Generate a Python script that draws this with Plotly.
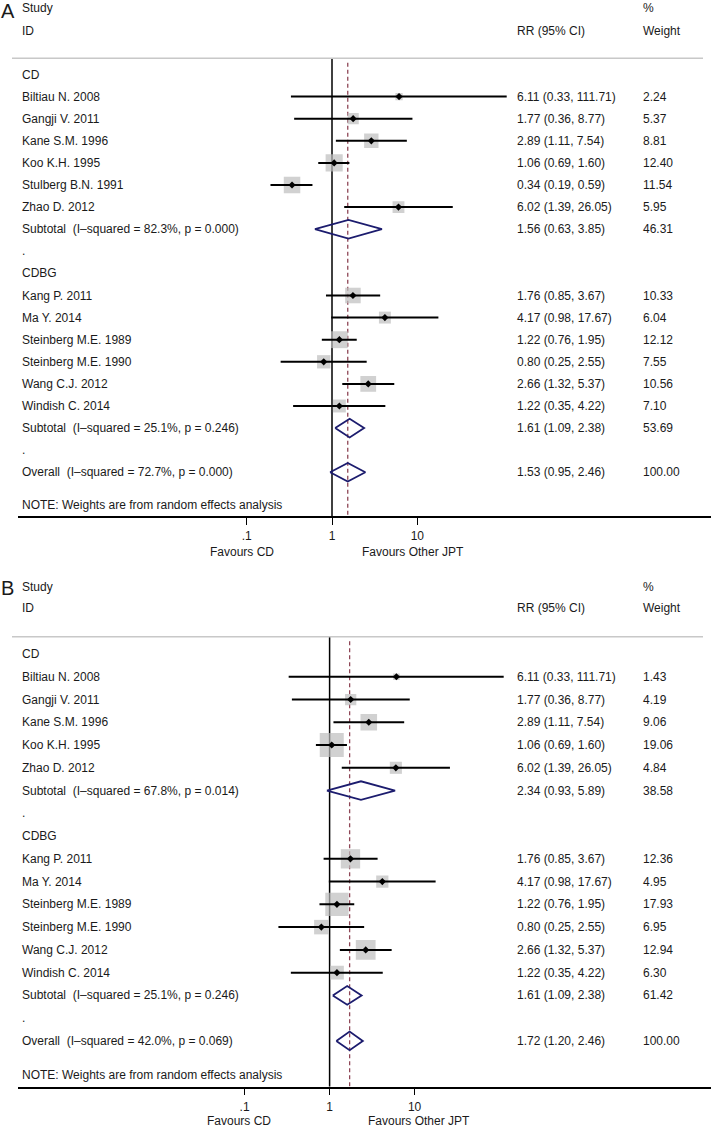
import plotly.graph_objects as go
import numpy as np

W, H = 711, 1127
FONT = "Liberation Sans, Arial, Helvetica, sans-serif"
TXT = "#1a1a1a"

# ---------------- Data: Panel A ----------------
a_cd_study = ["Biltiau N. 2008", "Gangji V. 2011", "Kane S.M. 1996", "Koo K.H. 1995",
              "Stulberg B.N. 1991", "Zhao D. 2012"]
a_cd_rr = [6.11, 1.77, 2.89, 1.06, 0.34, 6.02]
a_cd_lo = [0.33, 0.36, 1.11, 0.69, 0.19, 1.39]
a_cd_hi = [111.71, 8.77, 7.54, 1.60, 0.59, 26.05]
a_cd_w = [2.24, 5.37, 8.81, 12.40, 11.54, 5.95]
a_cd_sub = (1.56, 0.63, 3.85, 46.31, "82.3%", "0.000")

a_bg_study = ["Kang P. 2011", "Ma Y. 2014", "Steinberg M.E. 1989", "Steinberg M.E. 1990",
              "Wang C.J. 2012", "Windish C. 2014"]
a_bg_rr = [1.76, 4.17, 1.22, 0.80, 2.66, 1.22]
a_bg_lo = [0.85, 0.98, 0.76, 0.25, 1.32, 0.35]
a_bg_hi = [3.67, 17.67, 1.95, 2.55, 5.37, 4.22]
a_bg_w = [10.33, 6.04, 12.12, 7.55, 10.56, 7.10]
a_bg_sub = (1.61, 1.09, 2.38, 53.69, "25.1%", "0.246")

a_overall = (1.53, 0.95, 2.46, 100.00, "72.7%", "0.000")

# ---------------- Data: Panel B ----------------
b_cd_study = ["Biltiau N. 2008", "Gangji V. 2011", "Kane S.M. 1996", "Koo K.H. 1995",
              "Zhao D. 2012"]
b_cd_rr = [6.11, 1.77, 2.89, 1.06, 6.02]
b_cd_lo = [0.33, 0.36, 1.11, 0.69, 1.39]
b_cd_hi = [111.71, 8.77, 7.54, 1.60, 26.05]
b_cd_w = [1.43, 4.19, 9.06, 19.06, 4.84]
b_cd_sub = (2.34, 0.93, 5.89, 38.58, "67.8%", "0.014")

b_bg_study = ["Kang P. 2011", "Ma Y. 2014", "Steinberg M.E. 1989", "Steinberg M.E. 1990",
              "Wang C.J. 2012", "Windish C. 2014"]
b_bg_rr = [1.76, 4.17, 1.22, 0.80, 2.66, 1.22]
b_bg_lo = [0.85, 0.98, 0.76, 0.25, 1.32, 0.35]
b_bg_hi = [3.67, 17.67, 1.95, 2.55, 5.37, 4.22]
b_bg_w = [12.36, 4.95, 17.93, 6.95, 12.94, 6.30]
b_bg_sub = (1.61, 1.09, 2.38, 61.42, "25.1%", "0.246")

b_overall = (1.72, 1.20, 2.46, 100.00, "42.0%", "0.069")

group_names = ["CD", "CDBG"]
tick_vals = [0.1, 1, 10]
tick_text = [".1", "1", "10"]

# ---------------- Layout geometry (pixels) ----------------
panels = [
    dict(letter="A", suffix="", groups=[(a_cd_study, a_cd_rr, a_cd_lo, a_cd_hi, a_cd_w, a_cd_sub),
                                       (a_bg_study, a_bg_rr, a_bg_lo, a_bg_hi, a_bg_w, a_bg_sub)],
         overall=a_overall, row0=74.5, dy=22.1, top=58.3, axis_px=516.0, x1=332.0, ppd=85.3,
         study_y=8.5, id_y=30.7, letter_y=11.0, box_k=4.85, note_off=1.48,
         fav_off=36.0, fav_l=242.0, fav_r=413.0),
    dict(letter="B", suffix="2", groups=[(b_cd_study, b_cd_rr, b_cd_lo, b_cd_hi, b_cd_w, b_cd_sub),
                                        (b_bg_study, b_bg_rr, b_bg_lo, b_bg_hi, b_bg_w, b_bg_sub)],
         overall=b_overall, row0=654.0, dy=22.76, top=636.7, axis_px=1086.7, x1=329.6, ppd=85.0,
         study_y=586.7, id_y=608.3, letter_y=588.0, box_k=5.5, note_off=1.5,
         fav_off=34.3, fav_l=239.0, fav_r=418.5),
]

X_LEFT = 18.0
X_LABEL = 21.0
X_RR = 515.5
X_WT = 642.0
BOX_COLOR = "#BEBEBE"
DIAMOND_COLOR = "#1c1c6e"
DASH_COLOR = "#8e4656"

fig = go.Figure()
annotations = []
shapes = []
layout_axes = {}


def py(px):
    return 1 - px / H


def ann(x_px, y, text, yref, size=12, xanchor="left"):
    return dict(x=x_px / W, xref="paper", y=y, yref=yref, text=text, showarrow=False,
                xanchor=xanchor, yanchor="middle", borderpad=0,
                font=dict(family=FONT, size=size, color=TXT))


for p in panels:
    xa = "x" + p["suffix"]
    ya = "y" + p["suffix"]
    rows = []
    for gname, g in zip(group_names, p["groups"]):
        st, rr, lo, hi, w, sub = g
        rows.append(("head", gname))
        for i in range(len(st)):
            rows.append(("study", st[i], rr[i], lo[i], hi[i], w[i]))
        rows.append(("sub", "Subtotal\u00a0\u00a0(I\u2013squared = %s, p = %s)" % (sub[4], sub[5]),
                     sub[0], sub[1], sub[2], sub[3]))
        rows.append(("dot", "."))
    ov = p["overall"]
    rows.append(("overall", "Overall\u00a0\u00a0(I\u2013squared = %s, p = %s)" % (ov[4], ov[5]),
                 ov[0], ov[1], ov[2], ov[3]))
    n_over = len(rows) - 1
    note_row = n_over + p["note_off"]

    y_bottom = (p["axis_px"] - p["row0"]) / p["dy"]
    y_top = (p["top"] - p["row0"]) / p["dy"]

    lo_log = (X_LEFT - p["x1"]) / p["ppd"]
    hi_log = (W - p["x1"]) / p["ppd"]
    layout_axes["xaxis" + p["suffix"]] = dict(
        type="log", range=[lo_log, hi_log], domain=[X_LEFT / W, 1], anchor=ya,
        showline=True, linecolor="black", linewidth=1.5, ticks="outside", ticklen=7,
        tickwidth=1.2, tickcolor="black", tickvals=tick_vals, ticktext=tick_text,
        ticklabelstandoff=1,
        tickfont=dict(family=FONT, size=12, color=TXT), showgrid=False, zeroline=False,
        fixedrange=True)
    layout_axes["yaxis" + p["suffix"]] = dict(
        range=[y_bottom, y_top], domain=[py(p["axis_px"]), py(p["top"])], anchor=xa,
        visible=False, showgrid=False, zeroline=False, fixedrange=True)

    fig.add_trace(go.Scatter(x=[1, 1], y=[y_top, y_bottom], mode="lines", xaxis=xa, yaxis=ya,
                             line=dict(color="black", width=1.5), hoverinfo="skip",
                             showlegend=False))
    fig.add_trace(go.Scatter(x=[ov[0], ov[0]], y=[y_top + 0.2, y_bottom], mode="lines",
                             xaxis=xa, yaxis=ya,
                             line=dict(color=DASH_COLOR, width=1.3, dash="4px,3px"),
                             hoverinfo="skip", showlegend=False))

    bx, by, bs = [], [], []
    cx, cy = [], []
    for i, r in enumerate(rows):
        if r[0] == "study":
            bx.append(r[2]); by.append(i); bs.append(p["box_k"] * np.sqrt(r[5]))
            cx += [r[3], r[4], None]; cy += [i, i, None]
    fig.add_trace(go.Scatter(x=bx, y=by, mode="markers", xaxis=xa, yaxis=ya,
                             marker=dict(symbol="square", size=bs, color=BOX_COLOR,
                                         line=dict(width=0)),
                             hoverinfo="skip", showlegend=False))
    fig.add_trace(go.Scatter(x=cx, y=cy, mode="lines", xaxis=xa, yaxis=ya,
                             line=dict(color="black", width=2), hoverinfo="skip",
                             showlegend=False, connectgaps=False))
    fig.add_trace(go.Scatter(x=bx, y=by, mode="markers", xaxis=xa, yaxis=ya,
                             marker=dict(symbol="diamond", size=5.5, color="black"),
                             hoverinfo="skip", showlegend=False))

    dx, dyy = [], []
    hh = 9.3 / p["dy"]
    for i, r in enumerate(rows):
        if r[0] in ("sub", "overall"):
            dx += [r[3], r[2], r[4], r[2], r[3], None]
            dyy += [i, i - hh, i, i + hh, i, None]
    fig.add_trace(go.Scatter(x=dx, y=dyy, mode="lines", xaxis=xa, yaxis=ya,
                             line=dict(color=DIAMOND_COLOR, width=1.8),
                             hoverinfo="skip", showlegend=False))

    for i, r in enumerate(rows):
        annotations.append(ann(X_LABEL, i, r[1], ya))
        if r[0] in ("study", "sub", "overall"):
            annotations.append(ann(X_RR, i, "%.2f (%.2f, %.2f)" % (r[2], r[3], r[4]), ya))
            annotations.append(ann(X_WT, i, "%.2f" % r[5], ya))
    annotations.append(ann(X_LABEL, note_row, "NOTE: Weights are from random effects analysis", ya))

    annotations.append(dict(x=0, xref="paper", y=py(p["letter_y"]), yref="paper", text=p["letter"],
                            showarrow=False, xanchor="left", yanchor="middle", borderpad=0,
                            font=dict(family=FONT, size=20, color=TXT)))
    annotations.append(ann(X_LABEL, py(p["study_y"]), "Study", "paper"))
    annotations.append(ann(X_LABEL, py(p["id_y"]), "ID", "paper"))
    annotations.append(ann(X_WT, py(p["study_y"]), "%", "paper"))
    annotations.append(ann(X_RR, py(p["id_y"]), "RR (95% CI)", "paper"))
    annotations.append(ann(X_WT, py(p["id_y"]), "Weight", "paper"))

    fav_y = py(p["axis_px"] + p["fav_off"])
    annotations.append(ann(p["fav_l"], fav_y, "Favours CD", "paper", xanchor="center"))
    annotations.append(ann(p["fav_r"], fav_y, "Favours Other JPT", "paper", xanchor="center"))

    shapes.append(dict(type="line", xref="paper", yref="paper", x0=12 / W, x1=703 / W,
                       y0=py(p["top"]), y1=py(p["top"]),
                       line=dict(color="#C8C8C8", width=1.5)))

fig.update_layout(
    width=W, height=H, margin=dict(l=0, r=0, t=0, b=0),
    paper_bgcolor="white", plot_bgcolor="white", showlegend=False,
    annotations=annotations, shapes=shapes, **layout_axes)

fig.write_html("out.html", config={"displayModeBar": False},
               post_script="document.body.style.margin='0';document.body.style.padding='0';"
                           "document.body.style.overflow='hidden';")
